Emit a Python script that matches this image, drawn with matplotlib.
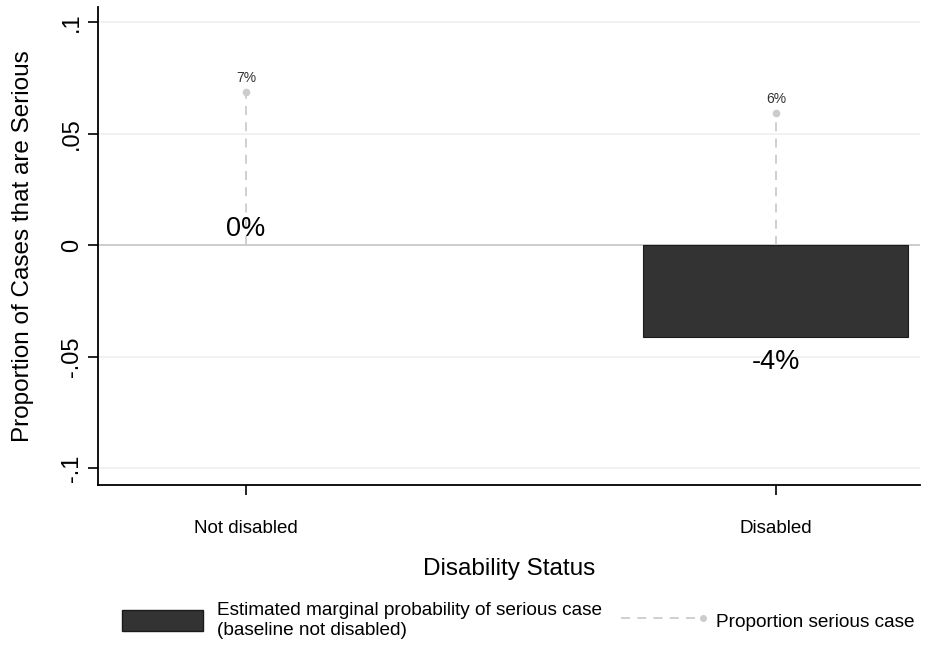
import matplotlib
matplotlib.use("Agg")
import matplotlib.pyplot as plt
from matplotlib.patches import Patch
from matplotlib.lines import Line2D
from matplotlib.legend_handler import HandlerLine2D

plt.rcParams['font.family'] = ['Liberation Sans', 'DejaVu Sans']

categories = ["Not disabled", "Disabled"]
marginal = [0.0, -0.041]
proportion = [0.0686, 0.0593]
marginal_labels = ["0%", "-4%"]
proportion_labels = ["7%", "6%"]
yticks = [-0.1, -0.05, 0, 0.05, 0.1]
yticklabels = ["-.1", "-.05", "0", ".05", ".1"]


class EndMarkerHandler(HandlerLine2D):
    def create_artists(self, legend, orig_handle, xdescent, ydescent,
                       width, height, fontsize, trans):
        arts = super().create_artists(legend, orig_handle, xdescent, ydescent,
                                      width, height, fontsize, trans)
        for a in arts:
            if isinstance(a, Line2D):
                n = len(a.get_xdata())
                a.set_markevery([n - 1])
        return arts


fig = plt.figure(figsize=(9.25, 6.48), dpi=100)
ax = fig.add_axes([0.106, 0.2515, 0.8886, 0.7375])
x = list(range(len(categories)))

ax.set_ylim(-0.1076, 0.1067)
ax.set_xlim(-0.279, 1.272)

for t in yticks:
    if t == 0:
        ax.axhline(t, color="#c4c4c4", lw=1.2, zorder=1)
    else:
        ax.axhline(t, color="#eaf0f3", lw=1.2, zorder=0)

lws = [0.8 if m != 0 else 0 for m in marginal]
ax.bar(x, marginal, width=0.5, color="#333333", edgecolor="#1a1a1a", lw=lws, zorder=2)

for xi, p in zip(x, proportion):
    ax.plot([xi, xi], [0, p], ls=(0, (5, 4)), color="#cccccc", lw=1.3, zorder=3)
ax.plot(x, proportion, ls="none", marker="o", ms=4.5, color="#cccccc", zorder=4)

for xi, p, lab in zip(x, proportion, proportion_labels):
    ax.annotate(lab, (xi, p), xytext=(0, 5), textcoords="offset points",
                ha="center", va="bottom", fontsize=10, color="#333333")

for xi, m, lab in zip(x, marginal, marginal_labels):
    if m >= 0:
        ax.annotate(lab, (xi, m), xytext=(0, 2), textcoords="offset points",
                    ha="center", va="bottom", fontsize=19.5, color="black")
    else:
        ax.annotate(lab, (xi, m), xytext=(0, -9), textcoords="offset points",
                    ha="center", va="top", fontsize=19.5, color="black")

ax.set_yticks(yticks)
ax.set_yticklabels(yticklabels, rotation=90, va="center", fontsize=17)
ax.set_xticks(x)
ax.set_xticklabels(categories, fontsize=13.5)
ax.tick_params(axis="y", length=7, width=1.2, pad=4)
ax.tick_params(axis="x", length=7, width=1.2, pad=18)
for s in ["top", "right"]:
    ax.spines[s].set_visible(False)
for s in ["left", "bottom"]:
    ax.spines[s].set_linewidth(1.3)

ax.set_ylabel("Proportion of Cases that are Serious", fontsize=17.5, labelpad=19)
ax.set_xlabel("Disability Status", fontsize=17.5, labelpad=15)

line_handle = Line2D([0], [0], ls=(0, (5, 4)), color="#cccccc", lw=1.3,
                     marker="o", ms=4)
handles = [Patch(facecolor="#333333", edgecolor="#1a1a1a"), line_handle]
labels = ["Estimated marginal probability of serious case\n(baseline not disabled)",
          "Proportion serious case"]
leg = fig.legend(handles, labels, loc="lower center", bbox_to_anchor=(0.56, -0.012),
                 ncol=2, frameon=False, fontsize=13.7, handlelength=4.3,
                 handleheight=1.3, columnspacing=1.0, handletextpad=0.7,
                 labelspacing=0.2, numpoints=1,
                 handler_map={line_handle: EndMarkerHandler()})

fig.savefig("out.png", dpi=100)
